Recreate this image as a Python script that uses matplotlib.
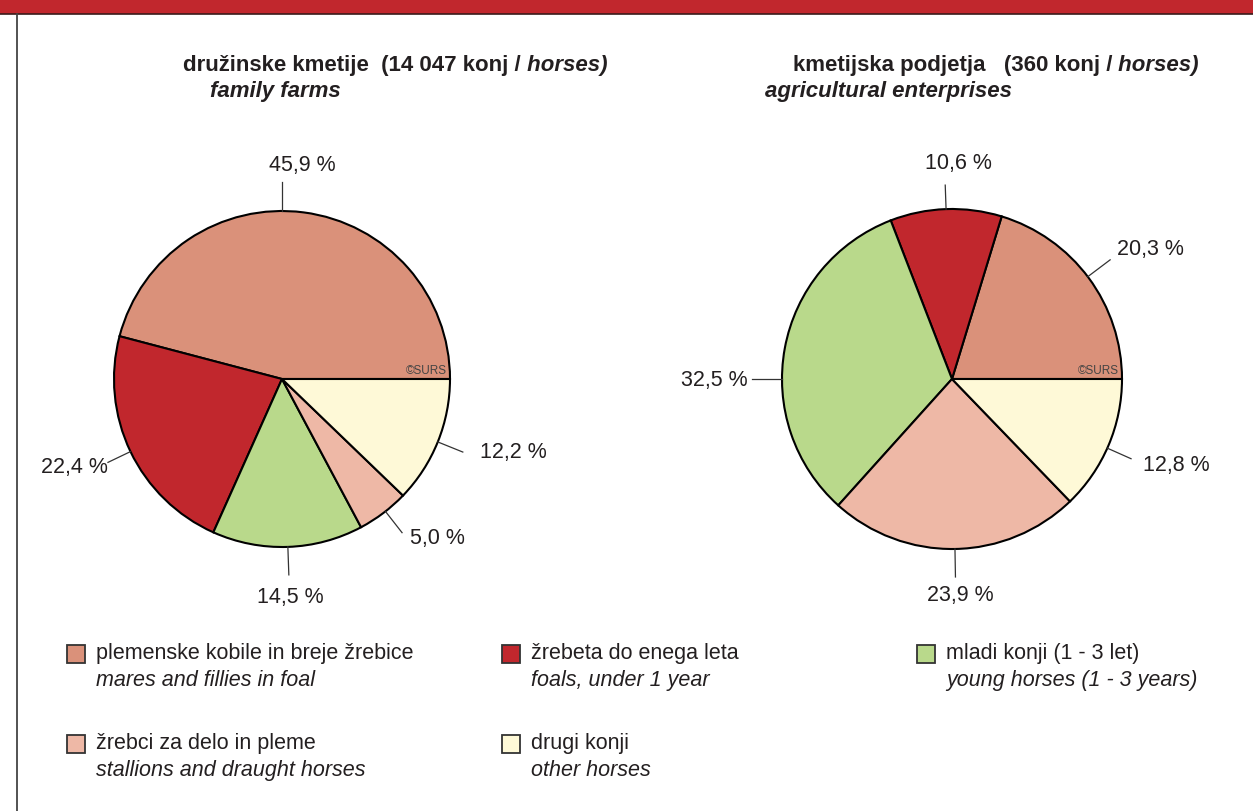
import matplotlib.pyplot as plt
from matplotlib.patches import Rectangle
import numpy as np

plt.rcParams['font.family'] = ['Liberation Sans', 'DejaVu Sans']

# categories (Slovenian / English)
cat_si = ['plemenske kobile in breje žrebice', 'žrebeta do enega leta',
          'mladi konji (1 - 3 let)', 'žrebci za delo in pleme', 'drugi konji']
cat_en = ['mares and fillies in foal', 'foals, under 1 year',
          'young horses (1 - 3 years)', 'stallions and draught horses', 'other horses']
colors = ['#DA917A', '#C1272D', '#B9D98B', '#EEB8A6', '#FEF9D7']

# shares in %
family_farms = [45.9, 22.4, 14.5, 5.0, 12.2]
enterprises = [20.3, 10.6, 32.5, 23.9, 12.8]
family_total = '14 047'
enterprise_total = '360'

TXT = '#231F20'
FS = 15.5
W, H = 1253, 812

fig = plt.figure(figsize=(W / 100, H / 100), dpi=100)
ax = fig.add_axes([0, 0, 1, 1])


def fmt(v):
    return ('%.1f' % v).replace('.', ',') + ' %'


def draw_pie(vals, cx, cy, r, lead_ang, lead_len, txt_pos):
    ax.pie(vals, colors=colors, startangle=0, counterclock=False,
           center=(cx, cy), radius=r,
           wedgeprops=dict(edgecolor='black', linewidth=1.5))
    for v, a, L, (tx, ty, ha) in zip(vals, lead_ang, lead_len, txt_pos):
        c, s = np.cos(np.radians(a)), np.sin(np.radians(a))
        x0, y0 = cx + r * c, cy - r * s
        x1, y1 = cx + (r + L) * c, cy - (r + L) * s
        ax.plot([x0, x1], [y0, y1], color='#333333', lw=0.9)
        ax.text(tx, ty, fmt(v), ha=ha, va='center', fontsize=FS, color=TXT)
    ax.text(cx + r - 3, cy - 9, '©SURS', ha='right', va='center',
            fontsize=8.5, color='#444444')


draw_pie(family_farms, 282, 380, 168,
         [90, 205.6, 272, 308, 338], [29, 25, 28, 27, 27],
         [(302, 165, 'center'), (108, 468, 'right'), (290, 598, 'center'),
          (410, 539, 'left'), (480, 453, 'left')])
draw_pie(enterprises, 952, 380, 170,
         [37, 92, 180, 271, 336], [28, 24, 30, 28, 26],
         [(1117, 250, 'left'), (958, 163, 'center'), (748, 381, 'right'),
          (960, 596, 'center'), (1143, 466, 'left')])

ax.set_xlim(0, W)
ax.set_ylim(H, 0)
ax.set_aspect('equal')
ax.axis('off')

# frame: red band on top, thin rule down the left
ax.add_patch(Rectangle((0, 0), W, 15, facecolor='#C1272D', edgecolor='none'))
ax.plot([0, W], [15, 15], color='#3A1A1A', lw=1.2)
ax.plot([17, 17], [15, H], color='#444444', lw=1.3)


def title(x, y, bold_txt, total):
    t1 = ax.text(x, y, bold_txt + '  (' + total + ' konj /', fontsize=16,
                 fontweight='bold', color=TXT, va='center', ha='left')
    ax.annotate(' horses)', xy=(1, 0), xycoords=t1, va='bottom', ha='left',
                fontsize=16, fontweight='bold', style='italic', color=TXT)


title(183, 65, 'družinske kmetije', family_total)
ax.text(210, 92, 'family farms', fontsize=16, fontweight='bold',
        style='italic', color=TXT, va='center')
title(793, 65, 'kmetijska podjetja ', enterprise_total)
ax.text(765, 92, 'agricultural enterprises', fontsize=16, fontweight='bold',
        style='italic', color=TXT, va='center')

# legend
leg_pos = [(67, 646), (502, 646), (917, 646), (67, 736), (502, 736)]
for (sx, sy), si, en, col in zip(leg_pos, cat_si, cat_en, colors):
    ax.add_patch(Rectangle((sx, sy), 18, 18, facecolor=col,
                           edgecolor='#333333', lw=1.3))
    ax.text(sx + 29, sy + 8, si, fontsize=FS, color=TXT, va='center')
    ax.text(sx + 29, sy + 35, en, fontsize=FS, color=TXT, va='center',
            style='italic')

fig.savefig('out.png', dpi=100)
